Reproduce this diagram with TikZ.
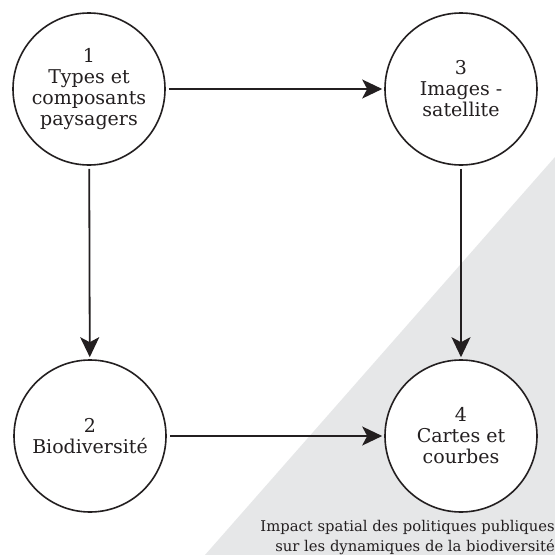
\documentclass[tikz,border=0pt]{standalone}
\usepackage{fontspec}
\setmainfont{DejaVu Serif}
\usetikzlibrary{arrows.meta}
\definecolor{bggray}{HTML}{E6E7E8}
\definecolor{ink}{HTML}{231F20}
\begin{document}
\begin{tikzpicture}[x=1pt,y=-1pt,
  bubble/.style={circle, draw=ink, line width=1.6pt, fill=white, minimum size=152pt, inner sep=0pt,
    align=center, font=\fontsize{19}{21}\selectfont, text=ink},
  link/.style={draw=ink, line width=1.8pt, -{Stealth[length=20pt,width=19pt,inset=5pt]}, shorten <=3pt, shorten >=2pt},
  capt/.style={align=right, anchor=south east, inner sep=0pt, font=\fontsize{14.8}{20.5}\selectfont, text=ink}]
\useasboundingbox (0,0) rectangle (555,555);
\fill[white] (0,0) rectangle (555,555);
\fill[bggray] (555,157) -- (555,555) -- (205,555) -- cycle;
\node[bubble] (n1) at (89,89) {1\\Types et\\composants\\paysagers};
\node[bubble] (n3) at (461,89) {3\\Images -\\satellite};
\node[bubble] (n2) at (90,436) {2\\Biodiversité};
\node[bubble] (n4) at (461,436) {4\\Cartes et\\courbes};
\draw[link] (n1) -- (n3);
\draw[link] (n1) -- (n2);
\draw[link] (n3) -- (n4);
\draw[link] (n2) -- (n4);
\node[capt] (cap) at (555,555) {Impact spatial des politiques publiques\\sur les dynamiques de la biodiversité};
\end{tikzpicture}
\end{document}
